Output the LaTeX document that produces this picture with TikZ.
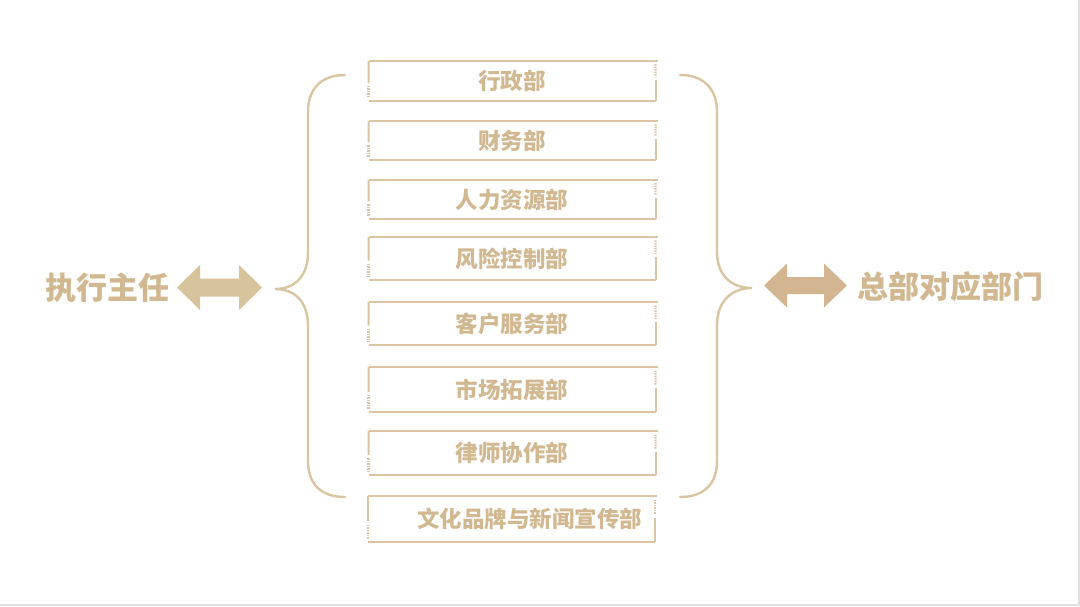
\documentclass[tikz,border=0pt]{standalone}
\usepackage{fontspec}
\newfontfamily\cjk{Noto Sans CJK SC}
\usetikzlibrary{calc}
\definecolor{txtc}{RGB}{210,184,145}
\definecolor{linec}{RGB}{218,197,162}
\definecolor{arrL}{RGB}{216,196,156}
\definecolor{arrR}{RGB}{211,181,146}
\tikzset{
  deptbox/.style={minimum width=287pt, inner sep=0pt, outer sep=0pt, draw=none,
    text=txtc, font=\cjk\bfseries\fontsize{22.5}{26}\selectfont},
  sidelabel/.style={inner sep=0pt, text=txtc, font=\cjk\bfseries\fontsize{31}{36}\selectfont},
  topl/.style={draw=linec, line width=1.6pt},
  botl/.style={draw=linec, line width=2.6pt},
  sidel/.style={draw=linec, line width=2pt},
  dotl/.style={draw=linec, line width=2.2pt, dash pattern=on 1.5pt off 1pt},
  bracel/.style={draw=linec, line width=2.4pt, line cap=round},
}
\begin{document}
\begin{tikzpicture}[x=1pt,y=-1pt]
\useasboundingbox (0,0) rectangle (1080,606);
\fill[white] (0,0) rectangle (1080,606);
\draw[black!12, line width=1.6pt] (0,605) -- (1080,605) (1079.2,0) -- (1079.2,606);
% department boxes
\foreach \n/\y/\h/\t in {b1/81/40/行政部, b2/140.5/39/财务部, b3/199.5/39/人力资源部,
  b4/258.5/43/风险控制部, b5/323.5/43/客户服务部, b6/389.5/45/市场拓展部, b7/453/44/律师协作部}
  \node[deptbox, minimum height=\h pt] (\n) at (512,\y) {\t};
\node[deptbox, minimum height=46pt, text width=261pt, align=right] (b8) at (511.5,519) {文化品牌与新闻宣传部};
\foreach \n in {b1,b2,b3,b4,b5,b6,b7,b8}{
  \draw[topl] (\n.north west) -- ($(\n.north east)+(2,0)$);
  \draw[botl] (\n.south west) -- (\n.south east);
  \draw[sidel] (\n.north west) -- ($(\n.north west)!0.55!(\n.south west)$);
  \draw[dotl] ($(\n.north west)!0.62!(\n.south west)$) -- ($(\n.north west)!0.93!(\n.south west)$);
  \draw[dotl] ($(\n.north east)!0.08!(\n.south east)$) -- ($(\n.north east)!0.40!(\n.south east)$);
  \draw[sidel] ($(\n.north east)!0.47!(\n.south east)$) -- (\n.south east);
}
% side labels
\node[sidelabel] (lead) at (107.5,288) {执行主任};
\node[sidelabel] (hq) at (950,287) {总部对应部门};
% double arrows
\coordinate (la) at (219.5,287.5);
\coordinate (ra) at (805.5,285.5);
\fill[arrL] ($(la)+(-42.5,0)$) -- ($(la)+(-19.5,-22.5)$) -- ($(la)+(-19.5,-9)$) -- ($(la)+(19.5,-9)$)
  -- ($(la)+(19.5,-22.5)$) -- ($(la)+(42.5,0)$) -- ($(la)+(19.5,22.5)$) -- ($(la)+(19.5,9)$)
  -- ($(la)+(-19.5,9)$) -- ($(la)+(-19.5,22.5)$) -- cycle;
\fill[arrR] ($(ra)+(-41.5,0)$) -- ($(ra)+(-18.5,-22)$) -- ($(ra)+(-18.5,-8.5)$) -- ($(ra)+(18.5,-8.5)$)
  -- ($(ra)+(18.5,-22)$) -- ($(ra)+(41.5,0)$) -- ($(ra)+(18.5,22)$) -- ($(ra)+(18.5,8.5)$)
  -- ($(ra)+(-18.5,8.5)$) -- ($(ra)+(-18.5,22)$) -- cycle;
% braces
\draw[bracel] (345,75) .. controls (322,75) and (308,88) .. (308,112) -- (308,252)
  .. controls (308,275) and (296,289) .. (275,289)
  .. controls (296,289) and (308,303) .. (308,326) -- (308,461)
  .. controls (308,485) and (322,497) .. (345,497);
\draw[bracel] (680,75) .. controls (703,75) and (717,88) .. (717,112) -- (717,252)
  .. controls (717,275) and (731,288) .. (752,288)
  .. controls (731,288) and (717,302) .. (717,325) -- (717,461)
  .. controls (717,485) and (703,497) .. (680,497);
\end{tikzpicture}
\end{document}
